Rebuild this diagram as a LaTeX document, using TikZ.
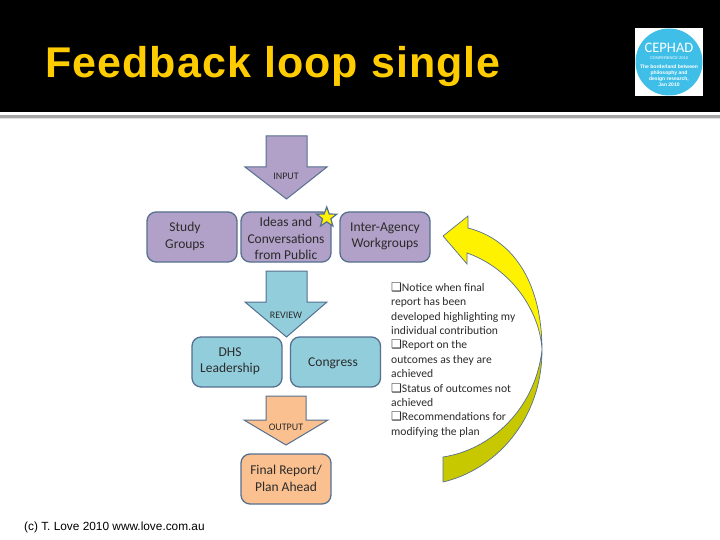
\documentclass[tikz,border=0pt]{standalone}
\usepackage{fontspec}
\setmainfont{Carlito}
\newfontfamily\arialf{Liberation Sans}
\newfontfamily\titlef[LetterSpace=2.5]{Liberation Sans}
\newfontfamily\dejavuf{DejaVu Sans}
\usetikzlibrary{shapes.geometric}
\definecolor{purp}{HTML}{B1A0C7}
\definecolor{teal2}{HTML}{92CDDC}
\definecolor{orng}{HTML}{FAC090}
\definecolor{edgeb}{HTML}{56708F}
\definecolor{ink}{HTML}{2B2B2B}
\definecolor{titley}{HTML}{FFCC00}
\definecolor{logob}{HTML}{3FBFE8}
\definecolor{darky}{HTML}{C8C800}
\tikzset{
  box/.style={draw=edgeb,line width=1.3pt,rounded corners=9pt,minimum width=90pt,minimum height=50pt,
    inner sep=0pt,anchor=center},
  boxtext/.style={inner sep=0pt,align=center,text=ink,font=\fontsize{13.5}{16.4}\selectfont},
  blockarrow/.style={draw=edgeb,line width=1pt,line join=miter},
  arrowlabel/.style={text=ink,font=\fontsize{10}{11}\selectfont,inner sep=0pt},
  noteline/.style={text=ink,font=\fontsize{11.6}{13}\selectfont,anchor=base west,inner sep=0pt},
  logotext/.style={text=white,inner sep=0pt,align=center},
}
\newcommand{\qbox}{{\dejavuf\fontsize{12}{12}\selectfont ❑}}
\begin{document}
\begin{tikzpicture}[x=1pt,y=-1pt]
\useasboundingbox (0,0) rectangle (720,540);
\fill[white] (0,0) rectangle (720,540);
\fill[black] (0,0) rectangle (720,112.5);
\fill[gray!70] (0,115.5) rectangle (720,118);
\fill[gray!25] (0,118) rectangle (720,119.5);
\node[anchor=base west,inner sep=0pt,text=titley,font=\titlef\bfseries\fontsize{43}{47}\selectfont] (title) at (45,78) {Feedback loop single};
% logo
\fill[white] (635,28) rectangle (703,96);
\fill[logob] (669,62) circle (33.5);
\node[logotext,font=\fontsize{14.5}{15}\selectfont] (logoa) at (669,47.5) {CEPHAD};
\node[logotext,font=\arialf\fontsize{4}{5}\selectfont] (logob) at (669,58) {CONFERENCE 2010};
\node[logotext,font=\arialf\bfseries\fontsize{5}{6}\selectfont] (logoc) at (669,76) {The borderland between\\philosophy and\\design research,\\Jan 2010};
% block arrows
\draw[blockarrow,fill=purp] (266,136) -- (307,136) -- (307,167) -- (327,167) -- (286.5,199) -- (245,167) -- (266,167) -- cycle;
\node[arrowlabel] (input) at (286,176) {INPUT};
\draw[blockarrow,fill=teal2] (266,271) -- (307,271) -- (307,302) -- (327,302) -- (286.5,337) -- (245,302) -- (266,302) -- cycle;
\node[arrowlabel] (review) at (286,315) {REVIEW};
\draw[blockarrow,fill=orng] (266,396) -- (306,396) -- (306,420) -- (328,420) -- (286,445) -- (244,420) -- (266,420) -- cycle;
\node[arrowlabel] (output) at (286,427) {OUTPUT};
% boxes
\node[box,fill=purp] (study) at (192,237) {};
\node[boxtext] (studyt) at (185,236.5) {Study\\Groups};
\node[box,fill=purp] (ideas) at (286,237) {};
\node[boxtext] (ideast) at (286,238.5) {Ideas and\\Conversations\\from Public};
\node[box,fill=purp] (inter) at (385,237) {};
\node[boxtext] (intert) at (385,236.5) {Inter-Agency\\Workgroups};
\node[box,fill=teal2] (dhs) at (237,362) {};
\node[boxtext] (dhst) at (230,361.5) {DHS\\Leadership};
\node[box,fill=teal2] (congress) at (335.5,362) {};
\node[boxtext] (congresst) at (333,363.5) {Congress};
\node[box,fill=orng] (final) at (286,479) {};
\node[boxtext] (finalt) at (286,478.5) {Final Report/\\Plan Ahead};
% star
\node[star,star points=5,star point ratio=2.4,draw=edgeb,line width=1.2pt,fill=yellow,minimum size=21pt,inner sep=0pt] (starmark) at (326.7,217.5) {};
% curved arrow
\draw[draw=edgeb,line width=.7pt,fill=yellow,line join=miter]
  (443,236) -- (468,216) -- (468,228) .. controls (515,240) and (542,285) .. (542,350)
  .. controls (540,310) and (510,268) .. (467,253) -- (467,264) -- cycle;
\draw[draw=edgeb,line width=.7pt,fill=darky,line join=miter]
  (542,350) .. controls (542,420) and (495,470) .. (443,482) -- (443,457)
  .. controls (490,450) and (535,410) .. (542,350) -- cycle;
% notes
\node[noteline] (n1) at (391,291) {\qbox Notice when final};
\node[noteline] (n2) at (391,305) {report has been};
\node[noteline] (n3) at (391,320) {developed highlighting my};
\node[noteline] (n4) at (391,334) {individual contribution};
\node[noteline] (n5) at (391,348) {\qbox Report on the};
\node[noteline] (n6) at (391,363) {outcomes as they are};
\node[noteline] (n7) at (391,377) {achieved};
\node[noteline] (n8) at (391,392) {\qbox Status of outcomes not};
\node[noteline] (n9) at (391,406) {achieved};
\node[noteline] (n10) at (391,420) {\qbox Recommendations for};
\node[noteline] (n11) at (391,435) {modifying the plan};
% footer
\node[anchor=base west,inner sep=0pt,text=black,font=\arialf\fontsize{11.85}{14}\selectfont] (foot) at (24,530) {(c) T. Love 2010 www.love.com.au};
\end{tikzpicture}
\end{document}
